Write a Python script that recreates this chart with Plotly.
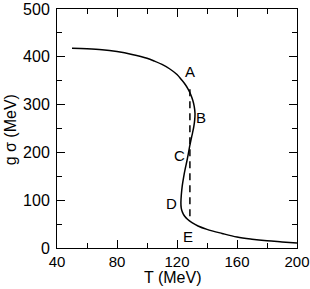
import plotly.graph_objects as go

T = [50, 60, 70, 80, 90, 100, 105, 110, 115, 120, 123, 125.5, 127.5, 129, 130.5, 131.5, 132, 131.8, 131.2,
     130.3, 129.3, 128.4, 127.6, 126.6, 125.5, 124.4, 123.5, 122.9, 122.6, 122.8, 123.6, 125, 127, 130, 134,
     140, 150, 160, 170, 180, 190, 200]
g_sigma = [418, 417, 415, 411, 405, 397, 391, 384, 375, 363, 352, 342, 332, 322, 309, 296, 282, 268, 254,
           240, 226, 212, 198, 182, 166, 148, 130, 112, 95, 84, 75, 67, 60, 53, 46,
           39, 30.5, 23, 18.5, 15.2, 12.8, 10.5]

dash_T = [128.6, 128.6]
dash_y = [332, 56]

labels = ["A", "B", "C", "D", "E"]
label_T = [128.7, 136, 121.5, 116.5, 127]
label_y = [370, 273, 194, 93, 24]

x_ticks = [40, 80, 120, 160, 200]
y_ticks = [0, 100, 200, 300, 400, 500]

font = "Arial, Liberation Sans, sans-serif"

fig = go.Figure()
fig.add_trace(go.Scatter(x=T, y=g_sigma, mode="lines", line=dict(color="black", width=1.5, shape="spline"),
                         showlegend=False))
fig.add_trace(go.Scatter(x=dash_T, y=dash_y, mode="lines", line=dict(color="black", width=1.5, dash="7px,5px"),
                         showlegend=False))
for l, tx, ty in zip(labels, label_T, label_y):
    fig.add_annotation(x=tx, y=ty, text=l, showarrow=False, font=dict(family=font, size=15, color="black"))

fig.add_annotation(x=0.48, y=-0.124, xref="paper", yref="paper", text="T (MeV)", showarrow=False,
                   xanchor="center", yanchor="middle", font=dict(family=font, size=16, color="black"))
fig.add_annotation(x=-0.19, y=0.494, xref="paper", yref="paper", text="g σ (MeV)", showarrow=False,
                   textangle=-90, xanchor="center", yanchor="middle",
                   font=dict(family=font, size=16, color="black"))

axis_common = dict(showgrid=False, zeroline=False, showline=True, linecolor="black", linewidth=1,
                   mirror="ticks", ticks="inside", ticklen=8, tickwidth=1, tickcolor="black", automargin=False,
                   ticklabeloverflow="allow")
fig.update_xaxes(range=[40, 200], tickvals=x_ticks, **axis_common,
                 tickfont=dict(family=font, size=15, color="black"),
                 minor=dict(ticks="inside", ticklen=5, dtick=20, tick0=40, tickcolor="black", tickwidth=1))
fig.update_yaxes(range=[0, 500], tickvals=y_ticks, **axis_common, ticklabelstandoff=3,
                 tickfont=dict(family=font, size=16, color="black"),
                 minor=dict(ticks="inside", ticklen=5, dtick=50, tick0=0, tickcolor="black", tickwidth=1))
fig.update_layout(width=310, height=289, margin=dict(l=57, r=13, t=9, b=41, autoexpand=False),
                  plot_bgcolor="white", paper_bgcolor="white")
fig.write_html("out.html", config={"displayModeBar": False},
               post_script="document.body.style.margin='0';document.body.style.overflow='hidden';")
